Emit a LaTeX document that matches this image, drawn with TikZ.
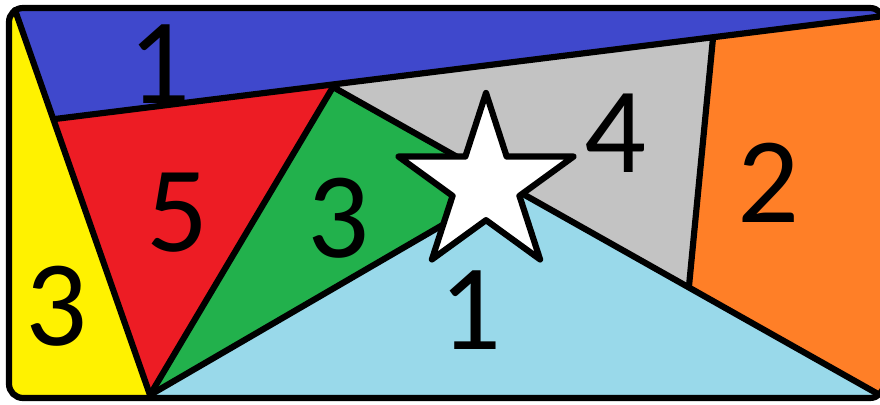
\documentclass[tikz,border=0pt]{standalone}
\usepackage{fontspec}
\setmainfont{Carlito}
\usetikzlibrary{shapes.geometric, positioning}

\definecolor{paintblue}{HTML}{3F48CC}
\definecolor{paintred}{HTML}{ED1C24}
\definecolor{paintgreen}{HTML}{22B14C}
\definecolor{paintyellow}{HTML}{FFF200}
\definecolor{paintcyan}{HTML}{99D9EA}
\definecolor{paintgray}{HTML}{C3C3C3}
\definecolor{paintorange}{HTML}{FF7F27}

\begin{document}
\begin{tikzpicture}[
    x=0.025cm, y=-0.025cm,
    edge/.style={line width=4.4pt, line join=round, line cap=round},
    num/.style={font=\fontsize{87}{87}\selectfont, inner sep=0pt},
    starbox/.style={star, star points=5, star point ratio=2.618, minimum size=4.6cm, inner sep=0pt, fill=white, draw, edge}
]
\useasboundingbox (0,0) rectangle (880,405);
% corners of the pieces
\coordinate (tl) at (15,10);
\coordinate (b) at (150,395);
\coordinate (l) at (55,119);
\coordinate (r) at (884,16);
\coordinate (p) at (333,87);
\coordinate (q) at (878,394);
\coordinate (c) at (508,187);
\coordinate (d1) at (713,38);
\coordinate (d2) at (689,286);

\begin{scope}
\clip[rounded corners=10pt] (9,8) rectangle (884,398);
\fill[paintblue] (0,0) rectangle (890,410);
\fill[paintyellow] (0,0) -- (tl) -- (b) -- (150,410) -- (0,410) -- cycle;
\fill[paintred] (l) -- (p) -- (b) -- cycle;
\fill[paintgreen] (p) -- (c) -- (b) -- cycle;
\fill[paintgray] (p) -- (d1) -- (d2) -- cycle;
\fill[paintorange] (d1) -- (r) -- (890,16) -- (890,410) -- (q) -- (d2) -- cycle;
\fill[paintcyan] (b) -- (c) -- (q) -- (878,410) -- (150,410) -- cycle;
\end{scope}

\draw[edge] (tl) -- (b);
\draw[edge] (l) -- (r);
\draw[edge] (p) -- (b);
\draw[edge] (p) -- (q);
\draw[edge] (b) -- (c);
\draw[edge] (d1) -- (d2);

\node[starbox] (star) at (486,185) {};

\draw[edge, rounded corners=10pt] (9,8) rectangle (884,398);

% numbers
\node[num] (onetop) at (160,64) {1};
\node[num] (five) at (178,213) {5};
\node[num] (threegreen) at (338,218) {3};
\node[num] (threeleft) at (57,306) {3};
\node[num] (onebottom) at (470,310) {1};
\node[num] (four) at (615,133) {4};
\node[num] (two) at (768,183) {2};
\end{tikzpicture}
\end{document}
